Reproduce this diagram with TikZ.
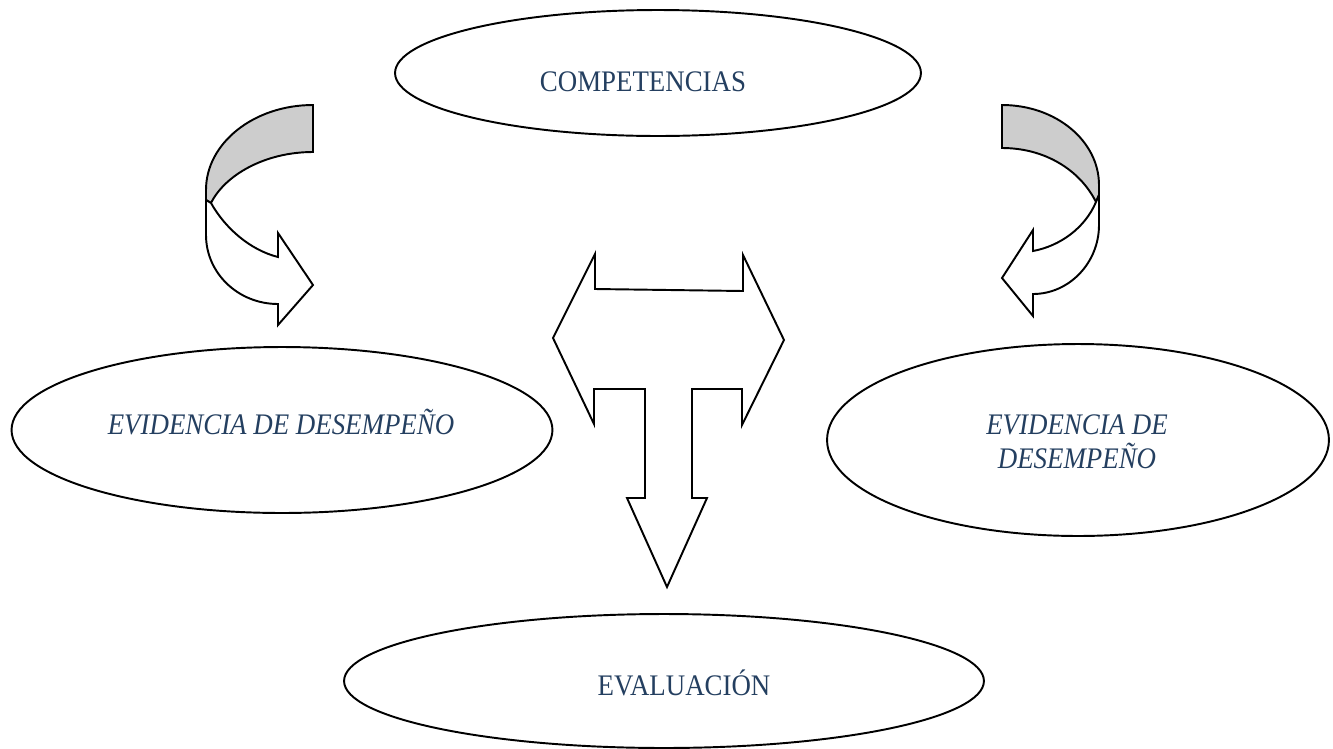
\documentclass[tikz,border=0pt]{standalone}
\usepackage{fontspec}
\setmainfont{Liberation Serif}[FakeStretch=0.9]
\usetikzlibrary{shapes.geometric}
\definecolor{azultexto}{RGB}{36,63,96}
\definecolor{grislomo}{RGB}{205,205,205}

\begin{document}
\begin{tikzpicture}[x=0.02cm, y=-0.02cm, line join=miter,
    elipse/.style={draw, line width=1.1pt, ellipse, inner sep=0pt},
    texto/.style={text=azultexto, font=\fontsize{17pt}{19.3pt}\selectfont, align=center},
    flecha/.style={draw, line width=1.1pt, fill=white},
    lomo/.style={draw, line width=1.1pt, fill=grislomo}]
      \useasboundingbox (0,0) rectangle (1333,748);

      % Elipses
      \node[elipse, minimum width=10.52cm, minimum height=2.52cm] (comp) at (658,73) {};
      \node[elipse, minimum width=10.82cm, minimum height=3.32cm] (evizq) at (282,430) {};
      \node[elipse, minimum width=10.04cm, minimum height=3.84cm] (evder) at (1078,440) {};
      \node[elipse, minimum width=12.8cm, minimum height=2.68cm] (eval) at (664,681) {};

      % Textos
      \node[texto, anchor=base] (compt) at (643,91) {COMPETENCIAS};
      \node[texto, anchor=base] (evizqt) at (281,434) {\itshape EVIDENCIA DE DESEMPEÑO};
      \node[texto] (evdert) at (1077,442) {\itshape EVIDENCIA DE\\\itshape DESEMPEÑO};
      \node[texto, anchor=base] (evalt) at (684,695) {EVALUACIÓN};

      % Flecha curva izquierda
      \draw[lomo] (313,105) .. controls (254,105) and (206,143) .. (206,190)
        -- (206,200) -- (211,203) .. controls (225,175) and (265,152) .. (313,152) -- cycle;
      \draw[flecha] (206,200) -- (206,235) .. controls (206,273) and (238,304) .. (278,304)
        -- (278,325) -- (313,285) -- (278,233) -- (278,257)
        .. controls (250,250) and (225,228) .. (211,203) -- cycle;

      % Flecha curva derecha
      \draw[lomo] (1002,105) .. controls (1056,105) and (1099,141) .. (1099,185)
        -- (1099,195) -- (1096,202) .. controls (1080,170) and (1045,148) .. (1002,148) -- cycle;
      \draw[flecha] (1099,195) -- (1099,225) .. controls (1099,263) and (1069,294) .. (1033,294)
        -- (1033,316) -- (1002,278) -- (1033,230) -- (1033,251)
        .. controls (1060,246) and (1085,228) .. (1096,202) -- cycle;

      % Flecha en T
      \draw[flecha] (553,338) -- (595,254) -- (595,289) -- (743,291) -- (743,255)
        -- (784,340) -- (742,425) -- (742,389) -- (692,389) -- (692,498)
        -- (707,498) -- (667,587) -- (627,498) -- (645,498) -- (645,389)
        -- (594,389) -- (594,424) -- cycle;
    \end{tikzpicture}
\end{document}
